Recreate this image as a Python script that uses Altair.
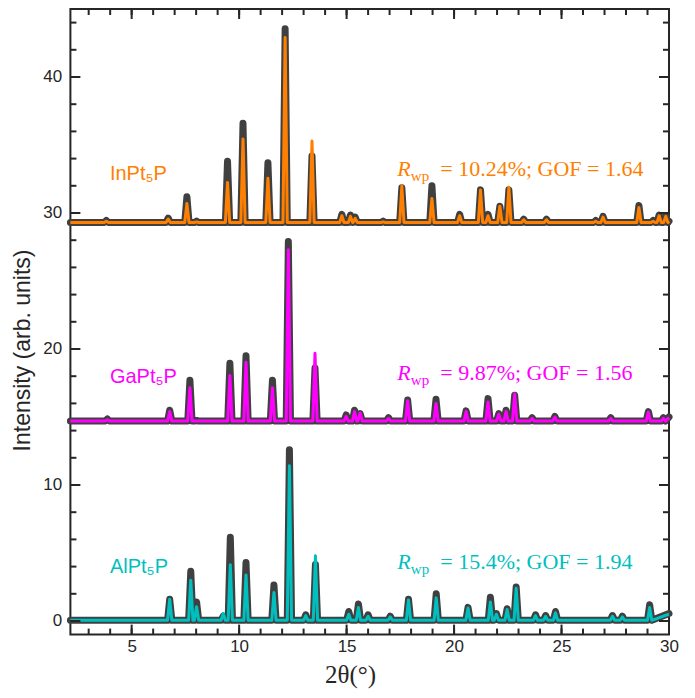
import altair as alt
import pandas as pd

# ---------------- data ----------------
series_names = ["AlPt5P", "GaPt5P", "InPt5P"]
series_labels = ["AlPt₅P", "GaPt₅P", "InPt₅P"]
series_colors = ["#00BFBF", "#FF00FF", "#FF8000"]
rwp_texts = ["= 15.4%; GOF = 1.94", "= 9.87%; GOF = 1.56", "= 10.24%; GOF = 1.64"]

# baseline (background) level of each offset pattern and value at 2θ = 30
al_base, ga_base, in_base = 0.05, 14.7, 29.3
al_end, ga_end, in_end = [0.55, 0.5], [15.0, 14.95], [29.4, 29.4]

# peak positions (2θ), observed peak intensity, calculated (fit) peak intensity
in_pos = [3.82, 6.70, 7.57, 8.02, 9.46, 10.18, 11.34, 12.14, 13.39, 14.78, 15.18, 15.40, 16.70, 17.57,
          18.97, 20.26, 21.23, 21.58, 22.13, 22.55, 23.24, 24.30, 26.59, 26.93, 28.60, 29.26, 29.54, 29.85]
in_obs = [29.45, 29.62, 31.2, 29.4, 33.8, 36.6, 33.7, 43.55, 34.2, 29.9, 29.85, 29.7, 29.4, 31.85,
          32.0, 29.9, 31.7, 29.9, 30.5, 31.7, 29.55, 29.55, 29.45, 29.75, 30.55, 29.45, 29.85, 29.8]
in_fit = [29.4, 29.55, 30.7, 29.35, 32.25, 35.45, 32.55, 42.9, 35.3, 29.8, 29.75, 29.6, 29.35, 32.0,
          31.07, 29.8, 31.7, 29.8, 30.5, 31.9, 29.5, 29.5, 29.4, 29.7, 30.4, 29.4, 29.8, 29.75]

ga_pos = [3.87, 6.77, 7.71, 8.02, 9.57, 10.32, 11.55, 12.29, 13.53, 14.98, 15.37, 15.63, 16.95, 17.84,
          19.16, 20.56, 21.58, 22.08, 22.42, 22.82, 23.63, 24.69, 27.29, 29.04, 29.74]
ga_obs = [14.85, 15.5, 17.7, 14.75, 18.95, 19.5, 17.7, 27.9, 18.6, 15.15, 15.5, 15.25, 14.95, 16.25,
          16.3, 15.45, 16.35, 15.25, 15.5, 16.6, 14.95, 15.05, 14.95, 15.4, 14.95]
ga_fit = [14.8, 15.4, 17.15, 14.7, 18.05, 19.03, 17.15, 27.3, 19.68, 15.05, 15.4, 15.3, 14.9, 16.2,
          16.0, 15.4, 16.1, 15.2, 15.4, 16.7, 14.9, 15.0, 14.9, 15.35, 14.9]

al_pos = [6.77, 7.75, 8.02, 9.26, 9.59, 10.32, 11.62, 12.34, 13.10, 13.55, 15.10, 15.55, 16.00, 17.03,
          17.88, 19.17, 20.65, 21.69, 21.97, 22.47, 22.89, 23.79, 24.26, 24.72, 27.37, 27.83, 29.10]
al_obs = [1.6, 3.65, 1.4, 0.35, 6.15, 4.3, 2.65, 12.6, 0.45, 4.15, 0.7, 1.25, 0.45, 0.35,
          1.6, 2.0, 1.0, 1.75, 0.55, 0.9, 2.5, 0.45, 0.4, 0.7, 0.4, 0.35, 1.2]
al_fit = [1.6, 3.0, 1.05, 0.55, 4.13, 3.39, 2.1, 11.42, 0.4, 4.79, 0.5, 1.0, 0.35, 0.3,
          1.55, 1.7, 0.95, 1.4, 0.5, 0.85, 2.4, 0.4, 0.35, 0.6, 0.35, 0.3, 1.0]

# annotation anchors (data coordinates)
label_x = [3.99, 3.99, 3.99]
label_y = [3.53, 17.5, 32.45]
rwp_x = [17.36, 17.36, 17.36]
rwp_y = [3.82, 17.74, 32.69]

x_ticks_major = [5, 10, 15, 20, 25, 30]
x_ticks_minor = list(range(3, 31))
y_ticks_major = [0, 10, 20, 30, 40]
y_ticks_minor = list(range(0, 45, 2))

X0, X1 = 2.15, 30.0
HW = 0.1  # half width of a drawn peak stick


def profile(name, pos, obs, fit, base, end):
    rows = [(name, X0, base, base)]
    for p, o, f in zip(pos, obs, fit):
        rows.append((name, p - HW, base, base))
        rows.append((name, p, o, f))
        rows.append((name, p + HW, base, base))
    rows.append((name, X1, end[0], end[1]))
    return rows


rows = (profile("AlPt5P", al_pos, al_obs, al_fit, al_base, al_end)
        + profile("GaPt5P", ga_pos, ga_obs, ga_fit, ga_base, ga_end)
        + profile("InPt5P", in_pos, in_obs, in_fit, in_base, in_end))
df = pd.DataFrame(rows, columns=["series", "x", "obs", "fit"])

ann = pd.DataFrame({
    "series": series_names, "label": series_labels,
    "lx": label_x, "ly": label_y, "rx": rwp_x, "ry": rwp_y,
    "rest": rwp_texts,
})

# ---------------- layout ----------------
W, H = 598.6, 625.6
PAD_L, PAD_T = 62.4, 1.0
INK = "#262626"
MAJ, MIN = 10, 6

xs = alt.Scale(domain=[X0, X1], nice=False, zero=False)
ys = alt.Scale(domain=[-1, 45], nice=False, zero=False)
cs = alt.Scale(domain=series_names, range=series_colors)

x_main = alt.Axis(values=x_ticks_major, ticks=False, domain=False, grid=False,
                  labelFlush=False, labelPadding=4,
                  labelFont="Liberation Sans", labelFontSize=17, labelColor=INK,
                  title="2θ(°)", titleFont="Liberation Serif", titleFontSize=25,
                  titleFontWeight="normal", titleColor=INK, titleX=279.6, titleY=48,
                  titleAlign="center", titleBaseline="alphabetic")
y_main = alt.Axis(values=y_ticks_major, ticks=False, domain=False, grid=False,
                  labelFlush=False, labelPadding=8.7,
                  labelFont="Liberation Sans", labelFontSize=17, labelColor=INK,
                  title="Intensity (arb. units)", titleFont="Liberation Sans", titleFontSize=23,
                  titleFontWeight="normal", titleColor=INK, titleX=-48.4, titleY=341,
                  titleAngle=270, titleAlign="center", titleBaseline="middle")

obs_layer = alt.Chart(df).mark_line(color="#404040", strokeWidth=7, strokeJoin="round",
                                    strokeCap="round").encode(
    x=alt.X("x:Q", scale=xs, axis=x_main),
    y=alt.Y("obs:Q", scale=ys, axis=y_main),
    detail="series:N",
)

fit_layer = alt.Chart(df).mark_line(strokeWidth=3, strokeJoin="round").encode(
    x=alt.X("x:Q", scale=xs),
    y=alt.Y("fit:Q", scale=ys),
    color=alt.Color("series:N", scale=cs, legend=None),
)

label_layer = alt.Chart(ann).mark_text(font="Liberation Sans", fontSize=20, align="left",
                                       baseline="alphabetic").encode(
    x=alt.X("lx:Q", scale=xs), y=alt.Y("ly:Q", scale=ys), text="label:N",
    color=alt.Color("series:N", scale=cs, legend=None),
)

r_layer = alt.Chart(ann).mark_text(font="Liberation Serif", fontStyle="italic", fontSize=22,
                                   align="left", baseline="alphabetic").encode(
    x=alt.X("rx:Q", scale=xs), y=alt.Y("ry:Q", scale=ys), text=alt.value("R"),
    color=alt.Color("series:N", scale=cs, legend=None),
)

wp_layer = alt.Chart(ann).mark_text(font="Liberation Serif", fontSize=15, align="left",
                                    baseline="alphabetic", dx=13.5, dy=5).encode(
    x=alt.X("rx:Q", scale=xs), y=alt.Y("ry:Q", scale=ys), text=alt.value("wp"),
    color=alt.Color("series:N", scale=cs, legend=None),
)

rest_layer = alt.Chart(ann).mark_text(font="Liberation Serif", fontSize=22, align="left",
                                      baseline="alphabetic", dx=43).encode(
    x=alt.X("rx:Q", scale=xs), y=alt.Y("ry:Q", scale=ys), text="rest:N",
    color=alt.Color("series:N", scale=cs, legend=None),
)


# inward tick marks on all four sides of the box, drawn from the tick value lists
def xticks(values, length, side):
    d = pd.DataFrame({"t": values})
    y0 = H if side == "bottom" else 0
    y1 = H - length if side == "bottom" else length
    return alt.Chart(d).mark_rule(color=INK, strokeWidth=2).encode(
        x=alt.X("t:Q", scale=xs), y=alt.value(y0), y2=alt.value(y1))


def yticks(values, length, side):
    d = pd.DataFrame({"t": values})
    x0 = 0 if side == "left" else W
    x1 = length if side == "left" else W - length
    return alt.Chart(d).mark_rule(color=INK, strokeWidth=2).encode(
        y=alt.Y("t:Q", scale=ys), x=alt.value(x0), x2=alt.value(x1))


tick_layers = [
    xticks(x_ticks_minor, MIN, "bottom"), xticks(x_ticks_major, MAJ, "bottom"),
    xticks(x_ticks_minor, MIN, "top"), xticks(x_ticks_major, MAJ, "top"),
    yticks(y_ticks_minor, MIN, "left"), yticks(y_ticks_major, MAJ, "left"),
    yticks(y_ticks_minor, MIN, "right"), yticks(y_ticks_major, MAJ, "right"),
]

chart = alt.layer(obs_layer, fit_layer, label_layer, r_layer, wp_layer, rest_layer,
                  *tick_layers).properties(
    width=W, height=H,
    autosize=alt.AutoSizeParams(type="none"),
    padding={"left": PAD_L, "top": PAD_T, "right": 18, "bottom": 55},
    background="white",
).configure_view(stroke=INK, strokeWidth=2)

chart.save("out.html", embed_options={"renderer": "svg", "actions": False})
